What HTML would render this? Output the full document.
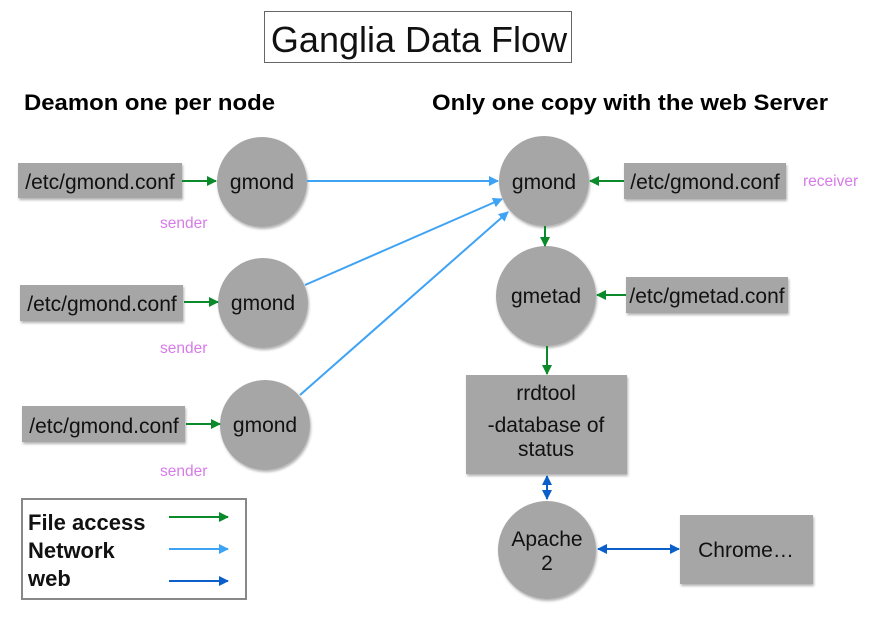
<!DOCTYPE html>
<html><head><meta charset="utf-8"><style>html,body{margin:0;padding:0;background:#fff}svg{display:block}</style></head>
<body>
<svg width="873" height="619" viewBox="0 0 873 619" xmlns="http://www.w3.org/2000/svg" font-family="Liberation Sans, sans-serif">
<defs>
<marker id="g" markerWidth="10" markerHeight="10" refX="9" refY="5" orient="auto" markerUnits="userSpaceOnUse"><path d="M0,0 L10,5 L0,10 z" fill="#0a8a2a"/></marker>
<marker id="b" markerWidth="10" markerHeight="10" refX="9" refY="5" orient="auto" markerUnits="userSpaceOnUse"><path d="M0,0 L10,5 L0,10 z" fill="#3ea3f5"/></marker>
<marker id="d" markerWidth="10" markerHeight="10" refX="9" refY="5" orient="auto" markerUnits="userSpaceOnUse"><path d="M0,0 L10,5 L0,10 z" fill="#0b5fc8"/></marker>
<marker id="ds" markerWidth="10" markerHeight="10" refX="1" refY="5" orient="auto" markerUnits="userSpaceOnUse"><path d="M10,0 L0,5 L10,10 z" fill="#0b5fc8"/></marker>
<filter id="sh" x="-10%" y="-10%" width="130%" height="130%"><feDropShadow dx="1" dy="2" stdDeviation="1.2" flood-color="#000" flood-opacity="0.3"/></filter>
</defs>
<rect x="264.5" y="11.5" width="307" height="51" fill="#fff" stroke="#666"/>
<text x="419" y="52" font-size="36" text-anchor="middle" fill="#111">Ganglia Data Flow</text>
<text x="24" y="110" font-size="22" font-weight="bold" textLength="251" lengthAdjust="spacingAndGlyphs">Deamon one per node</text>
<text x="432" y="110" font-size="22" font-weight="bold" textLength="396" lengthAdjust="spacingAndGlyphs">Only one copy with the web Server</text>

<g fill="#a6a6a6" filter="url(#sh)">
<rect x="18" y="163" width="164" height="35"/>
<rect x="20" y="285" width="163" height="36"/>
<rect x="22" y="406" width="163" height="36"/>
<rect x="624" y="163" width="162" height="36"/>
<rect x="626" y="277" width="162" height="36"/>
<rect x="466" y="375" width="161" height="99"/>
<rect x="680" y="515" width="133" height="69"/>
<circle cx="262" cy="182" r="45"/>
<circle cx="263" cy="303" r="45"/>
<circle cx="265" cy="425" r="45"/>
<circle cx="544" cy="181" r="45"/>
<circle cx="546" cy="296" r="50"/>
<circle cx="547" cy="550" r="49"/>
</g>

<g font-size="21" fill="#111" text-anchor="middle">
<text x="100" y="189">/etc/gmond.conf</text>
<text x="102" y="311">/etc/gmond.conf</text>
<text x="104" y="433">/etc/gmond.conf</text>
<text x="705" y="189">/etc/gmond.conf</text>
<text x="707" y="303">/etc/gmetad.conf</text>
<text x="262" y="189">gmond</text>
<text x="263" y="310">gmond</text>
<text x="265" y="432">gmond</text>
<text x="544" y="189">gmond</text>
<text x="546" y="303">gmetad</text>
<text x="546" y="400">rrdtool</text>
<text x="546" y="432">-database of</text>
<text x="546" y="456">status</text>
<text x="547" y="546">Apache</text>
<text x="547" y="570">2</text>
<text x="746" y="557">Chrome…</text>
</g>
<g font-size="15.5" fill="#d67be8">
<text x="160" y="228">sender</text>
<text x="160" y="353">sender</text>
<text x="160" y="476">sender</text>
<text x="803" y="186">receiver</text>
</g>

<g stroke-width="2" fill="none">
<line x1="182" y1="181" x2="216" y2="181" stroke="#0a8a2a" marker-end="url(#g)"/>
<line x1="184" y1="302" x2="218" y2="302" stroke="#0a8a2a" marker-end="url(#g)"/>
<line x1="186" y1="424" x2="220" y2="424" stroke="#0a8a2a" marker-end="url(#g)"/>
<line x1="624" y1="181" x2="590" y2="181" stroke="#0a8a2a" marker-end="url(#g)"/>
<line x1="626" y1="295" x2="597" y2="295" stroke="#0a8a2a" marker-end="url(#g)"/>
<line x1="545" y1="226" x2="545" y2="246" stroke="#0a8a2a" marker-end="url(#g)"/>
<line x1="547" y1="346" x2="547" y2="374" stroke="#0a8a2a" marker-end="url(#g)"/>
<line x1="307" y1="181" x2="498" y2="181" stroke="#3ea3f5" marker-end="url(#b)"/>
<line x1="305" y1="285" x2="502" y2="199" stroke="#3ea3f5" marker-end="url(#b)"/>
<line x1="300" y1="395" x2="508" y2="212" stroke="#3ea3f5" marker-end="url(#b)"/>
<line x1="547" y1="476" x2="547" y2="499" stroke="#0b5fc8" marker-end="url(#d)" marker-start="url(#ds)"/>
<line x1="598" y1="549" x2="679" y2="549" stroke="#0b5fc8" marker-end="url(#d)" marker-start="url(#ds)"/>
</g>

<rect x="22" y="499" width="224" height="100" fill="#fff" stroke="#888" stroke-width="2"/>
<g font-size="22" font-weight="bold" fill="#111">
<text x="28" y="530">File access</text>
<text x="28" y="558">Network</text>
<text x="28" y="586">web</text>
</g>
<g stroke-width="2">
<line x1="169" y1="517" x2="228" y2="517" stroke="#0a8a2a" marker-end="url(#g)"/>
<line x1="169" y1="549" x2="228" y2="549" stroke="#3ea3f5" marker-end="url(#b)"/>
<line x1="169" y1="581" x2="228" y2="581" stroke="#0b5fc8" marker-end="url(#d)"/>
</g>
</svg>
</body></html>
